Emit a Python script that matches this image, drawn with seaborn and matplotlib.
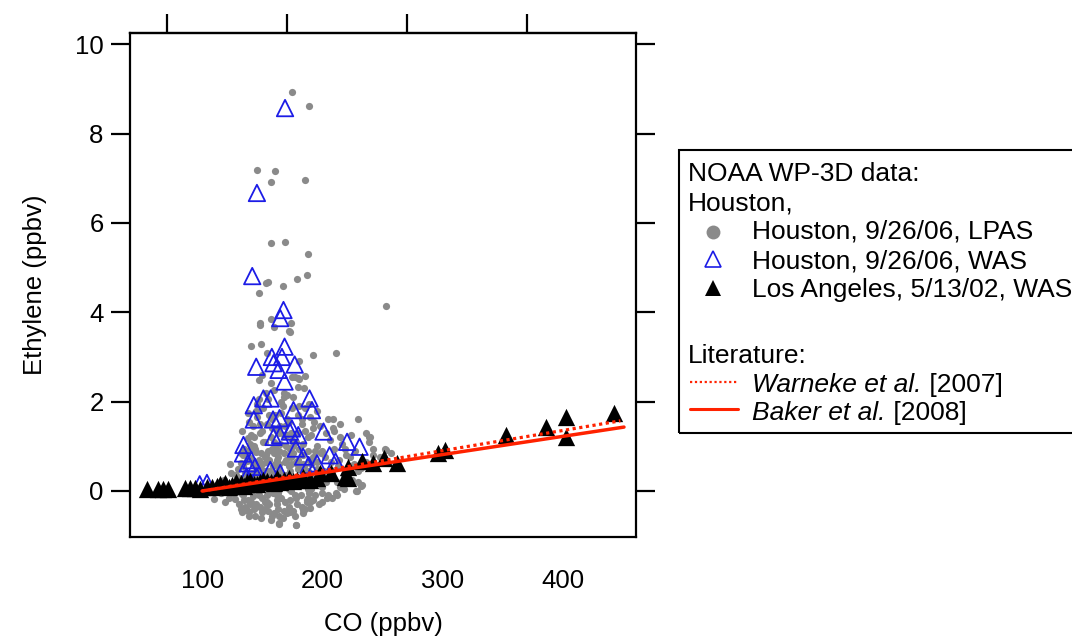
import matplotlib
matplotlib.use("Agg")
import matplotlib.pyplot as plt
from matplotlib.lines import Line2D
from matplotlib.patches import Rectangle
import seaborn as sns
import pandas as pd

# ---------------- data ----------------
lpas_co = [
    175, 189, 146, 161, 157, 186, 157, 169, 188, 153,
    155, 147, 167, 179, 187, 253, 148, 148, 157, 160,
    174, 172, 141, 149, 154, 192, 211, 181, 147, 175,
    180, 186, 180, 157, 168, 173, 209, 230, 210, 239,
    242, 252, 232, 229, 164, 178, 133, 110, 173, 184,
    190, 204, 236, 240, 239, 253, 257, 232, 230, 233,
    215, 208, 187, 190, 184, 136, 150, 164, 178, 228,
    177, 181, 150, 153, 185, 160, 147, 171, 189, 196,
    125, 127, 128, 130, 131, 132, 133, 134, 135, 136,
    137, 138, 139, 140, 141, 142, 143, 144, 145, 146,
    130, 132, 134, 136, 138, 140, 142, 144, 146, 148,
    131, 133, 135, 137, 139, 141, 143, 145, 147, 149,
    135, 137, 139, 141, 143, 145, 147, 149, 151, 153,
    150, 152, 154, 156, 158, 160, 162, 164, 166, 168,
    151, 153, 155, 157, 159, 161, 163, 165, 167, 169,
    148, 150, 152, 154, 156, 158, 160, 162, 164, 166,
    155, 157, 159, 161, 163, 165, 167, 169, 171, 173,
    146, 149, 152, 155, 158, 161, 164, 167, 170, 173,
    170, 172, 174, 176, 178, 180, 182, 184, 186, 188,
    171, 173, 175, 177, 179, 181, 183, 185, 187, 189,
    168, 170, 172, 174, 176, 178, 180, 182, 184, 186,
    188, 190, 192, 194, 196, 198, 200, 202, 204, 206,
    189, 191, 193, 195, 197, 199, 201, 203, 205, 207,
    208, 210, 212, 214, 216, 218, 220, 222, 224, 226,
    209, 211, 213, 215, 217, 219, 221, 223, 225, 227,
    126, 129, 132, 135, 138, 141, 144, 147, 150, 153,
    156, 159, 162, 165, 168, 171, 174, 177, 180, 183,
    134, 139, 144, 149, 154, 159, 164, 169, 174, 179,
    137, 142, 147, 152, 157, 162, 167, 172, 177, 182,
    185, 188, 191, 194, 197, 200, 203, 206, 196, 192,
    143, 148, 153, 158, 163, 168, 173, 178, 183, 188,
    145, 150, 155, 160, 165, 170, 175, 180, 185, 190,
    138, 141, 156, 161, 166, 171, 176, 181, 186, 191,
    105, 110, 113, 116, 118, 120, 122, 124, 119, 123,
    212, 218, 224, 230, 236, 242, 248, 200, 205, 215,
    132, 136, 140, 144, 148, 152, 156, 160, 164, 168,
    172, 176, 180, 184, 188, 192, 196, 200, 154, 162,
]
lpas_eth = [
    8.92, 8.62, 7.18, 7.16, 6.92, 6.96, 5.56, 5.57, 5.30, 4.66,
    4.68, 4.44, 4.59, 4.74, 4.83, 4.14, 3.77, 3.71, 3.85, 3.66,
    3.77, 3.57, 3.24, 3.30, 3.09, 3.04, 3.08, 2.92, 2.48, 2.56,
    2.52, 2.57, 2.33, 2.41, 2.19, 3.56, 1.60, 1.61, 1.35, 1.20,
    0.95, 0.94, 0.11, -0.01, -0.72, -0.76, -0.46, -0.19, -0.48, -0.43,
    -0.24, -0.16, 1.29, 1.21, 1.10, 0.92, 0.84, 0.51, 0.21, 0.13,
    0.10, -0.16, -0.20, -0.39, -0.50, -0.43, -0.46, -0.74, -0.76, 0.00,
    2.55, 2.50, 2.60, 2.20, 2.30, 2.25, 2.05, 2.15, 1.95, 1.80,
    0.12, -0.18, 0.35, 0.05, -0.30, 0.62, 0.20, -0.08, 0.95, 0.41,
    -0.42, 1.18, 0.15, 0.73, -0.25, 1.45, 0.30, -0.55, 0.88, 1.65,
    0.50, -0.05, 0.80, -0.35, 0.25, 1.05, -0.12, 0.58, 0.02, 1.30,
    0.28, 1.35, -0.20, 0.66, 1.55, 0.40, 1.00, -0.30, 0.70, 0.10,
    0.00, 0.90, -0.48, 1.25, -0.40, 1.80, 0.45, -0.60, 1.10, 0.35,
    0.60, -0.25, 1.50, 0.15, 0.95, -0.50, 1.35, 0.50, -0.15, 0.85,
    1.85, 0.80, -0.45, 1.20, 0.30, 1.70, -0.05, 1.05, 0.25, 1.45,
    -0.35, 0.25, 1.10, -0.10, 0.70, 1.60, 0.40, -0.30, 0.90, 1.75,
    0.05, -0.65, 0.55, 0.98, -0.40, 0.18, -0.60, 0.65, 1.25, -0.20,
    1.95, 0.85, 0.45, 2.05, -0.55, 0.00, 1.30, 1.90, 0.35, 0.95,
    0.15, 1.55, 0.60, -0.45, 1.10, 0.30, -0.10, 0.80, 1.35, 0.05,
    -0.50, 0.45, 1.85, 0.20, -0.30, 0.95, 1.60, 0.40, -0.25, 0.70,
    2.10, 1.00, -0.35, 1.30, 0.85, -0.15, 1.70, 0.55, 1.05, -0.40,
    1.20, 0.35, -0.20, 0.90, 0.50, 1.45, 0.10, 0.75, 0.30, 1.15,
    -0.05, 0.60, 1.55, 0.15, -0.30, 0.85, 0.45, 1.30, -0.10, 0.65,
    0.40, 0.95, 0.20, 0.70, 1.05, 0.35, 0.80, 0.55, 1.25, 0.60,
    1.40, -0.05, 0.55, 1.20, 0.15, 0.95, 0.40, 0.75, 0.25, 0.90,
    -0.05, 0.20, -0.40, 0.15, -0.20, 0.05, -0.35, 0.30, -0.15, 0.10,
    -0.30, 0.25, -0.20, 0.40, -0.45, 0.20, 0.00, -0.55, 0.50, -0.35,
    0.55, -0.55, 0.10, 0.50, -0.25, -0.05, -0.55, -0.25, 0.75, 0.60,
    0.35, 0.60, -0.10, -0.40, 0.30, 0.70, 0.10, 0.05, -0.10, 0.15,
    0.25, -0.15, 0.05, -0.10, 0.35, -0.05, 0.20, 0.50, 1.00, 1.40,
    1.20, 1.50, 0.65, 1.40, 0.75, 1.25, 0.80, 0.65, 1.50, 0.90,
    0.45, 1.35, 0.90, 1.10, 1.45, 0.70, 1.15, 1.30, 0.55, 1.65,
    1.75, 0.95, 1.70, 0.60, 2.00, 1.60, 2.10, 1.90, 1.85, 1.25,
    0.05, 0.00, 0.15, -0.05, 0.25, 0.10, -0.15, 0.40, -0.25, 0.60,
    -0.10, 0.05, 0.25, 0.45, 0.65, 0.80, 0.75, -0.25, 1.60, 1.50,
    0.85, 0.30, -0.30, 0.95, 0.55, 0.75, 0.45, 0.85, 0.60, 0.35,
    0.55, 1.00, 0.70, 0.60, 0.45, 0.75, 0.65, 0.90, -0.30, -0.10,
]

was_co = [169, 145.6, 141.7, 167.7, 165, 168.6, 158, 166.4, 145, 159.4,
          163.6, 177, 168.6, 189.4, 151, 157, 143, 191.4, 176, 143,
          159, 164.4, 174.7, 159.4, 165, 173, 180, 201, 134.4, 134,
          178, 184, 220.6, 231, 206, 211, 188.6, 195.6, 144, 156.7,
          138, 141, 145.6, 165, 98, 104, 137]
was_eth = [8.57, 6.67, 4.81, 4.05, 3.87, 3.23, 3.00, 3.00, 2.78, 2.86,
           2.71, 2.83, 2.45, 2.07, 2.07, 2.07, 1.92, 1.81, 1.81, 1.60,
           1.60, 1.63, 1.40, 1.21, 1.25, 1.33, 1.25, 1.33, 1.03, 0.84,
           0.95, 0.77, 1.10, 0.99, 0.80, 0.66, 0.58, 0.62, 0.54, 0.47,
           0.62, 0.69, 0.32, 0.40, 0.15, 0.18, 0.32]

la_co = [54, 63, 67.5, 71.7, 86, 90, 94, 98, 104, 108,
         112, 115, 119, 122, 125, 128, 132, 135, 137, 140,
         143, 146, 148, 151, 154, 157, 160, 162, 165, 168,
         172, 176, 179, 184, 190, 196, 198, 207, 219, 221,
         221, 233, 242, 251, 262, 296, 302, 353, 386, 403,
         403, 443]
la_eth = [0.05, 0.05, 0.05, 0.05, 0.07, 0.07, 0.07, 0.05, 0.10, 0.08,
          0.12, 0.15, 0.17, 0.10, 0.14, 0.20, 0.18, 0.12, 0.20, 0.22,
          0.16, 0.15, 0.20, 0.25, 0.22, 0.20, 0.18, 0.28, 0.20, 0.25,
          0.30, 0.22, 0.25, 0.32, 0.25, 0.30, 0.40, 0.40, 0.31, 0.54,
          0.29, 0.66, 0.62, 0.74, 0.62, 0.85, 0.92, 1.25, 1.43, 1.66,
          1.21, 1.74]

warneke_co = [100, 448]
warneke_eth = [0.0, 1.57]
baker_co = [100, 451]
baker_eth = [0.0, 1.43]

x_ticks = [100, 200, 300, 400]
x_top_ticks = [70.4, 170.4, 270.4, 370.4]
y_ticks = [0, 2, 4, 6, 8, 10]

# ---------------- style ----------------
sns.set_style("white")
plt.rcParams["font.family"] = ["Liberation Sans", "DejaVu Sans"]
plt.rcParams["text.color"] = "black"
plt.rcParams["axes.labelcolor"] = "black"
plt.rcParams["xtick.color"] = "black"
plt.rcParams["ytick.color"] = "black"

W, H = 1072, 640
fig = plt.figure(figsize=(W / 100, H / 100), dpi=100)
ax = fig.add_axes([130 / W, 1 - 537 / H, (636 - 130) / W, (537 - 33) / H])

GRAY = "#8a8a8a"
BLUE = "#1c1ce6"
RED = "#ff2200"

lpas = pd.DataFrame({"co": lpas_co, "eth": lpas_eth})
was = pd.DataFrame({"co": was_co, "eth": was_eth})
la = pd.DataFrame({"co": la_co, "eth": la_eth})

sns.scatterplot(data=lpas, x="co", y="eth", ax=ax, color=GRAY, s=27,
                linewidth=0, marker="o", zorder=2)
sns.scatterplot(data=was, x="co", y="eth", ax=ax, color=BLUE, s=140,
                marker="^", linewidth=1.3, zorder=3)
pc = ax.collections[-1]
pc.set_facecolor("none")
pc.set_edgecolor(BLUE)
sns.scatterplot(data=la, x="co", y="eth", ax=ax, color="black", s=155,
                marker="^", linewidth=0, zorder=4)

sns.lineplot(x=warneke_co, y=warneke_eth, ax=ax, color=RED, lw=2.3,
             linestyle=(0, (1, 1.1)), zorder=5)
sns.lineplot(x=baker_co, y=baker_eth, ax=ax, color=RED, lw=2.5, zorder=5)

ax.set_xlim(40, 461)
ax.set_ylim(-1.03, 10.25)
ax.set_xticks(x_ticks)
ax.set_yticks(y_ticks)
ax.set_xlabel("CO (ppbv)", fontsize=18.5, labelpad=14)
ax.set_ylabel("Ethylene (ppbv)", fontsize=18.5, labelpad=20)

for sp in ax.spines.values():
    sp.set_linewidth(1.6)
    sp.set_color("black")

ax.tick_params(axis="both", direction="out", length=14, width=1.6,
               labelsize=18.5, colors="black")
ax.tick_params(axis="x", pad=9)
ax.tick_params(axis="y", pad=5, right=True, labelright=False, left=True)

top = ax.secondary_xaxis("top")
top.set_xticks(x_top_ticks)
top.set_xticklabels([])
top.tick_params(direction="out", length=14, width=1.6, colors="black")
top.spines["top"].set_linewidth(1.6)

# ---------------- legend (drawn in figure pixel coordinates) ----------------
def fx(px):
    return px / W


def fy(py):
    return 1 - py / H


fig.add_artist(Rectangle((fx(679), fy(433)), fx(1200 - 679), (433 - 150) / H,
                         transform=fig.transFigure, fill=False,
                         edgecolor="black", lw=1.5))

LFS = 19
fig.text(fx(688), fy(181), "NOAA WP-3D data:", fontsize=LFS, va="baseline")
fig.text(fx(688), fy(210), "Houston,", fontsize=LFS, va="baseline")
fig.text(fx(752), fy(239), "Houston, 9/26/06, LPAS", fontsize=LFS, va="baseline")
fig.text(fx(752), fy(268), "Houston, 9/26/06, WAS", fontsize=LFS, va="baseline")
fig.text(fx(752), fy(297), "Los Angeles, 5/13/02, WAS", fontsize=LFS, va="baseline")
fig.text(fx(688), fy(363), "Literature:", fontsize=LFS, va="baseline")

fig.add_artist(Line2D([fx(713)], [fy(232)], marker="o", markersize=10,
                      color=GRAY, markeredgewidth=0, transform=fig.transFigure))
fig.add_artist(Line2D([fx(713)], [fy(259)], marker="^", markersize=11,
                      markerfacecolor="none", markeredgecolor=BLUE,
                      markeredgewidth=1.2, transform=fig.transFigure))
fig.add_artist(Line2D([fx(713)], [fy(288)], marker="^", markersize=11,
                      color="black", markeredgewidth=0, transform=fig.transFigure))
fig.add_artist(Line2D([fx(690), fx(738)], [fy(382), fy(382)], color=RED, lw=1.6,
                      linestyle=(0, (1, 1.2)), transform=fig.transFigure))
fig.add_artist(Line2D([fx(690), fx(738)], [fy(409), fy(409)], color=RED, lw=2.2,
                      transform=fig.transFigure))

renderer = fig.canvas.get_renderer()
for italic, rest, base in [("Warneke et al.", " [2007]", 392),
                           ("Baker et al.", " [2008]", 420)]:
    t = fig.text(fx(752), fy(base), italic, fontsize=LFS, style="italic",
                 va="baseline")
    bb = t.get_window_extent(renderer=renderer)
    fig.text(bb.x1 / W, fy(base), rest, fontsize=LFS, va="baseline")

fig.savefig("out.png", dpi=100)
